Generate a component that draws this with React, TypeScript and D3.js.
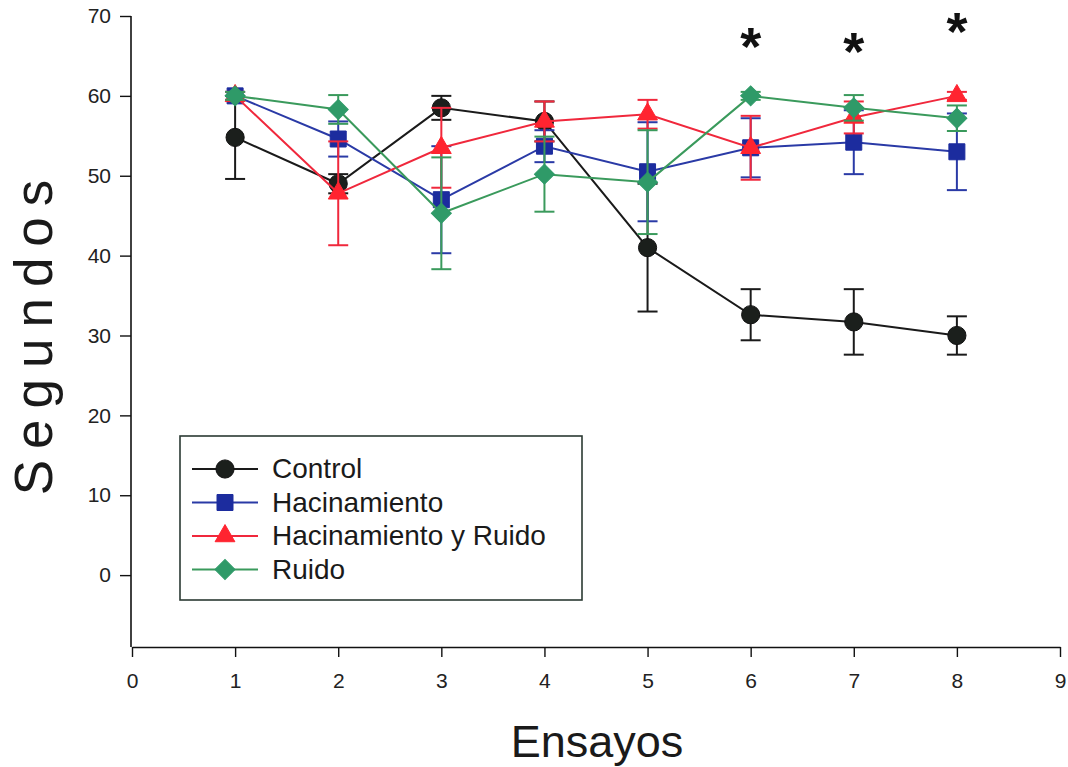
import React, { useEffect, useRef } from 'react';
import * as d3 from 'd3';

const ensayos = [1, 2, 3, 4, 5, 6, 7, 8];
const seriesNames = ['Control', 'Hacinamiento', 'Hacinamiento y Ruido', 'Ruido'];

const control = [54.8, 49, 58.5, 56.8, 41, 32.6, 31.7, 30];
const controlErr = [5.2, 1.2, 1.5, 2.5, 8, 3.2, 4.1, 2.4];
const hacinamiento = [60, 54.6, 47, 53.7, 50.5, 53.5, 54.2, 53];
const hacinamientoErr = [0.5, 2.2, 6.7, 2, 6.2, 3.7, 4, 4.8];
const hacRuido = [60, 47.8, 53.5, 56.8, 57.7, 53.5, 57.3, 60];
const hacRuidoErr = [0.5, 6.5, 5, 2.5, 1.8, 4, 2, 0.5];
const ruido = [60, 58.3, 45.3, 50.2, 49.2, 60, 58.5, 57.2];
const ruidoErr = [0.5, 1.8, 7, 4.7, 6.5, 0.5, 1.6, 1.6];

const xTicks = [0, 1, 2, 3, 4, 5, 6, 7, 8, 9];
const yTicks = [0, 10, 20, 30, 40, 50, 60, 70];

// significance marks
const starX = [6, 7, 8];
const starY = [67, 66.4, 68.9];

const FONT = '"Liberation Sans", Arial, sans-serif';

export default function App() {
  const ref = useRef<SVGSVGElement>(null);

  useEffect(() => {
    drawChart();
  }, []);

  function drawChart() {
    const svg = d3.select(ref.current);
    svg.selectAll('*').remove();

    const x = d3.scaleLinear().domain([0, 9]).range([132, 1060]);
    const y = d3.scaleLinear().domain([-9, 70]).range([647, 16]);

    const series = [
      { name: seriesNames[0], values: control, err: controlErr, line: '#1a1a1a', fill: '#1b1f1c', shape: 'circle' },
      { name: seriesNames[1], values: hacinamiento, err: hacinamientoErr, line: '#2a3aa6', fill: '#1c2c9e', shape: 'square' },
      { name: seriesNames[2], values: hacRuido, err: hacRuidoErr, line: '#f0283c', fill: '#ff2430', shape: 'triangle' },
      { name: seriesNames[3], values: ruido, err: ruidoErr, line: '#3a9a5c', fill: '#2f9a68', shape: 'diamond' },
    ];

    function marker(shape: string) {
      if (shape === 'circle') return d3.symbol(d3.symbolCircle, 260)();
      if (shape === 'square') return d3.symbol(d3.symbolSquare, 256)();
      if (shape === 'triangle') return d3.symbol(d3.symbolTriangle, 170)();
      return d3.symbol(d3.symbolSquare, 200)();
    }

    // axes
    const yAxis = svg.append('g')
      .attr('transform', 'translate(131,0)')
      .call(d3.axisLeft(y).tickValues(yTicks).tickSize(11).tickPadding(9).tickSizeOuter(0));
    yAxis.select('.domain').remove();
    yAxis.append('line').attr('x1', 0).attr('x2', 0).attr('y1', 16).attr('y2', 647)
      .attr('stroke', '#111').attr('stroke-width', 1.6);

    const xAxis = svg.append('g')
      .attr('transform', 'translate(0,647)')
      .call(d3.axisBottom(x).tickValues(xTicks).tickSize(10).tickPadding(16).tickSizeOuter(0));
    xAxis.select('.domain').attr('stroke', '#111').attr('stroke-width', 1.6);

    svg.selectAll('.tick line').attr('stroke', '#111').attr('stroke-width', 1.4);
    svg.selectAll('.tick text')
      .attr('font-family', FONT).attr('font-size', 21).attr('fill', '#222');

    // axis titles
    svg.append('text')
      .attr('transform', 'translate(52,332) rotate(-90)')
      .attr('text-anchor', 'middle')
      .attr('font-family', FONT).attr('font-size', 53)
      .attr('letter-spacing', 11)
      .attr('fill', '#1a1a1a')
      .text('Segundos');

    svg.append('text')
      .attr('x', 597).attr('y', 757)
      .attr('text-anchor', 'middle')
      .attr('font-family', FONT).attr('font-size', 45)
      .attr('fill', '#1a1a1a')
      .text('Ensayos');

    // series
    series.forEach((s) => {
      const g = svg.append('g');
      const line = d3.line<number>().x((_, i) => x(ensayos[i])).y((d) => y(d));
      g.append('path')
        .attr('d', line(s.values))
        .attr('fill', 'none')
        .attr('stroke', s.line)
        .attr('stroke-width', 2);

      s.values.forEach((v, i) => {
        const cx = x(ensayos[i]);
        const lo = y(v - s.err[i]);
        const hi = y(v + s.err[i]);
        g.append('line').attr('x1', cx).attr('x2', cx).attr('y1', lo).attr('y2', hi)
          .attr('stroke', s.line).attr('stroke-width', 2);
        [lo, hi].forEach((yy) => {
          g.append('line').attr('x1', cx - 10).attr('x2', cx + 10).attr('y1', yy).attr('y2', yy)
            .attr('stroke', s.line).attr('stroke-width', 2);
        });
      });

      s.values.forEach((v, i) => {
        g.append('path')
          .attr('d', marker(s.shape))
          .attr('transform', `translate(${x(ensayos[i])},${y(v)})${s.shape === 'diamond' ? ' rotate(45)' : ''}`)
          .attr('fill', s.fill)
          .attr('stroke', s.shape === 'circle' ? '#111' : s.fill)
          .attr('stroke-width', 1);
      });
    });

    // asterisks
    svg.selectAll('.star')
      .data(starX)
      .enter()
      .append('text')
      .attr('x', (d) => x(d))
      .attr('y', (d, i) => y(starY[i]) + 25)
      .attr('text-anchor', 'middle')
      .attr('font-family', FONT).attr('font-size', 54).attr('font-weight', 'bold')
      .attr('fill', '#111')
      .text('*');

    // legend
    const lg = svg.append('g');
    lg.append('rect')
      .attr('x', 180).attr('y', 436).attr('width', 402).attr('height', 164)
      .attr('fill', 'white').attr('stroke', '#2b3a33').attr('stroke-width', 1.6);
    series.forEach((s, i) => {
      const ly = 469 + i * 33.5;
      lg.append('line').attr('x1', 192).attr('x2', 258).attr('y1', ly).attr('y2', ly)
        .attr('stroke', s.line).attr('stroke-width', 2);
      lg.append('path')
        .attr('d', marker(s.shape))
        .attr('transform', `translate(225,${ly})${s.shape === 'diamond' ? ' rotate(45)' : ''}`)
        .attr('fill', s.fill)
        .attr('stroke', s.shape === 'circle' ? '#111' : s.fill);
      lg.append('text')
        .attr('x', 272).attr('y', ly + 9)
        .attr('font-family', FONT).attr('font-size', 28)
        .attr('fill', '#1a1a1a')
        .text(s.name);
    });
  }

  return (
    <svg
      ref={ref}
      width={1068}
      height={767}
      style={{ position: 'absolute', left: 0, top: 0, background: 'white' }}
    />
  );
}
